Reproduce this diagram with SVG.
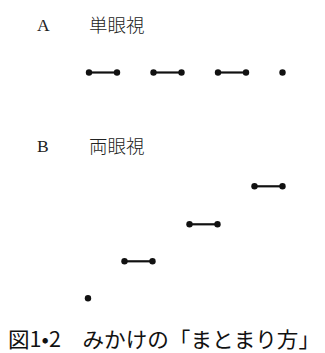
<svg xmlns="http://www.w3.org/2000/svg" width="325" height="353" viewBox="0 0 325 353">
<style>
.lbl{font-family:"Liberation Serif",serif;font-size:17.5px;fill:#222}
.jp{font-family:"Noto Sans CJK JP",sans-serif;font-size:18.5px;fill:#222;font-weight:300}
.cap{font-family:"Noto Sans CJK JP",sans-serif;font-size:21px;fill:#111}
.bar{stroke:#111;stroke-width:2.2}
.dot{fill:#111}
</style>
<rect width="325" height="353" fill="#fff"/>
<g id="labelA"><text class="lbl" x="37" y="31">A</text><text class="jp" x="89" y="32">単眼視</text></g>
<g id="labelB"><text class="lbl" x="37" y="152">B</text><text class="jp" x="89" y="153">両眼視</text></g>
<defs>
<g id="db"><line class="bar" x1="0" y1="0" x2="28" y2="0"/><circle class="dot" cx="0" cy="0" r="3.2"/><circle class="dot" cx="28" cy="0" r="3.2"/></g>
</defs>
<g id="a1"><use href="#db" x="89" y="72.5"/></g>
<g id="a2"><use href="#db" x="153.5" y="72.5"/></g>
<g id="a3"><use href="#db" x="218" y="72.5"/></g>
<g id="a4"><circle class="dot" cx="282.5" cy="72.5" r="3.2"/></g>
<g id="b1"><use href="#db" x="254.5" y="186.3"/></g>
<g id="b2"><use href="#db" x="189.5" y="224.3"/></g>
<g id="b3"><use href="#db" x="124.5" y="261.3"/></g>
<g id="b4"><circle class="dot" cx="88" cy="298.3" r="3.2"/></g>
<g id="connectors"></g>
<g id="caption"><text class="cap" x="8" y="347" textLength="312" lengthAdjust="spacingAndGlyphs">図1•2　みかけの「まとまり方」</text></g>
</svg>
